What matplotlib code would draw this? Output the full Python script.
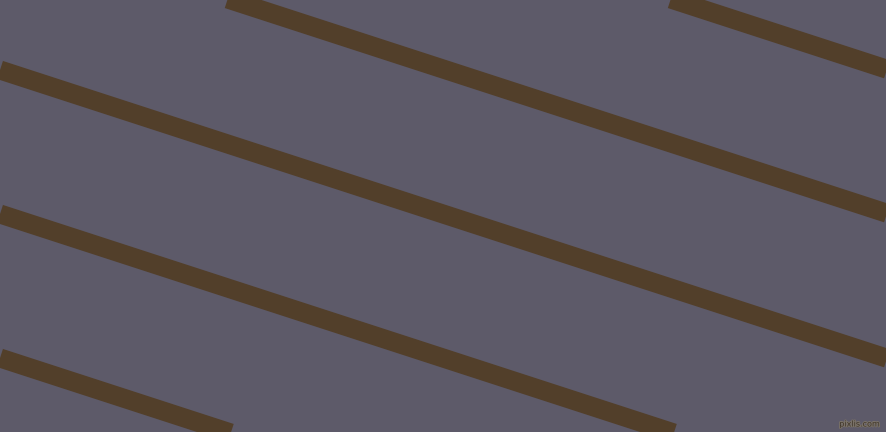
import numpy as np
import matplotlib
matplotlib.use("Agg")
import matplotlib.pyplot as plt
import matplotlib.patheffects as pe

# stripe geometry (pixel units, y down)
stripe_intercepts = [-219, -75, 70, 214, 358]   # y at x=0
stripe_slope = 0.325
x_ends = [0, 887]

bg_color = "#5d5a69"
stripe_color = "#523f2a"

fig = plt.figure(figsize=(8.87, 4.32), dpi=100)
ax = fig.add_axes([0, 0, 1, 1])
ax.set_facecolor(bg_color)
fig.patch.set_facecolor(bg_color)

xs = np.array(x_ends, dtype=float)
for b in stripe_intercepts:
    ax.plot(xs, b + stripe_slope * xs, color=stripe_color, lw=13.7,
            solid_capstyle="butt")

ax.set_xlim(0, 887)
ax.set_ylim(432, 0)
ax.axis("off")

# small watermark in the corner
ax.text(880, 424, "pixlis.com", fontsize=5.8, color="#3e3428",
        ha="right", va="center",
        path_effects=[pe.withStroke(linewidth=1.2, foreground="#7a7268")])

fig.savefig("out.png", dpi=100, facecolor=bg_color)
